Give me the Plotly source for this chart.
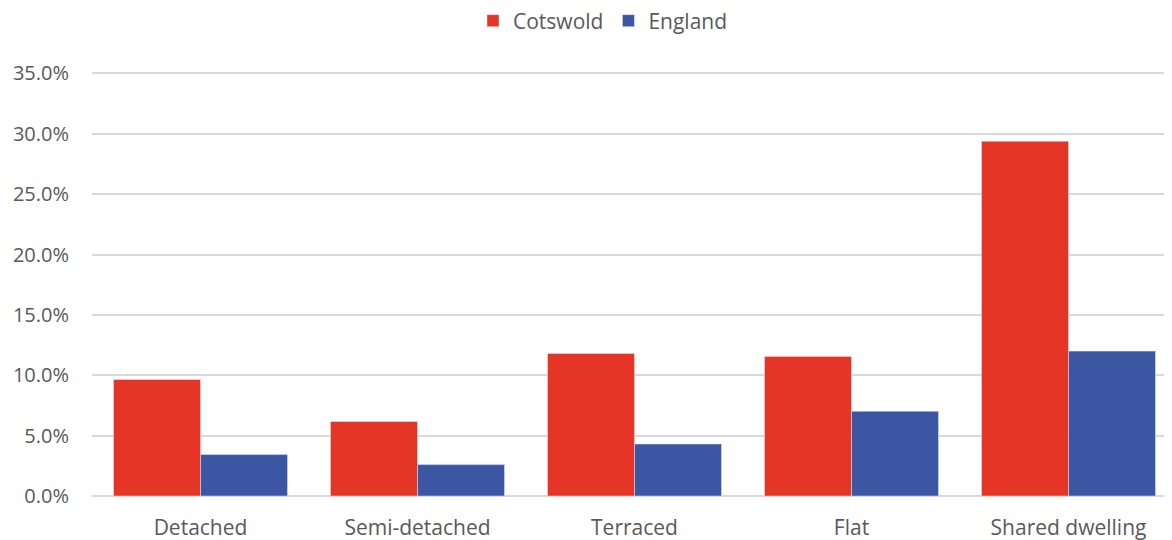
import plotly.graph_objects as go

categories = ["Detached", "Semi-detached", "Terraced", "Flat", "Shared dwelling"]
cotswold = [9.65, 6.17, 11.81, 11.56, 29.39]
england = [3.43, 2.60, 4.31, 7.02, 12.00]
y_ticks = [0, 5, 10, 15, 20, 25, 30, 35]
y_tick_labels = [f"{v:.1f}%" for v in y_ticks]

# page body has an 8px default margin; compensate so the chart lands at the 1172x540 viewport
font = "'Open Sans', sans-serif"
fig = go.Figure()
fig.add_trace(go.Bar(name="Cotswold", x=categories, y=cotswold, marker_color="#E43526"))
fig.add_trace(go.Bar(name="England", x=categories, y=england, marker_color="#3C56A4"))

fig.update_layout(
    width=1169, height=532,
    margin=dict(l=84, r=0, t=63, b=44, autoexpand=False),
    paper_bgcolor="white", plot_bgcolor="white",
    barmode="group", bargap=0.198, bargroupgap=0,
    font=dict(family=font, size=20, color="#595959"),
    legend=dict(orientation="h", x=(603 - 8) / 1169, xanchor="center", xref="container",
                y=1 - 13 / 532, yanchor="middle", yref="container",
                font=dict(size=21, color="#595959"), itemwidth=30),
    showlegend=True,
)
fig.update_yaxes(range=[0, 35.2], tickvals=y_ticks, ticktext=y_tick_labels,
                 showgrid=True, gridcolor="#D9D9D9", gridwidth=1.5,
                 zeroline=True, zerolinecolor="#D9D9D9", zerolinewidth=1.5,
                 ticks="", ticklabelstandoff=22, automargin=False,
                 tickfont=dict(size=20, color="#595959"))
fig.update_xaxes(showgrid=False, ticks="", ticklabelstandoff=17, automargin=False,
                 tickfont=dict(size=21, color="#595959"))
fig.write_html(
    "out.html",
    post_script="document.documentElement.style.overflow='hidden';document.body.style.overflow='hidden';",
)
